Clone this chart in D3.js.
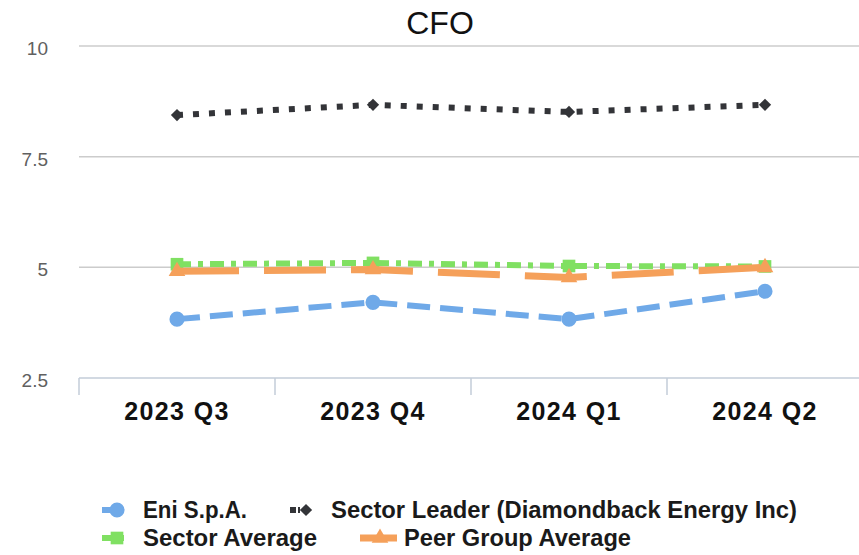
<!DOCTYPE html>
<html>
<head>
<meta charset="utf-8">
<script src="https://cdn.jsdelivr.net/npm/d3@7"></script>
<style>
  body { margin: 0; background: #fff; }
  svg { display: block; }
</style>
</head>
<body>
<div id="chart"></div>
<script>
const width = 859
const height = 555

const quarters = ['2023 Q3', '2023 Q4', '2024 Q1', '2024 Q2']
const yTicks = [2.5, 5, 7.5, 10]

const eniValues = [3.83, 4.21, 3.83, 4.46]
const leaderValues = [8.44, 8.67, 8.51, 8.67]
const sectorAvgValues = [5.07, 5.1, 5.03, 5.02]
const peerValues = [4.91, 4.95, 4.77, 5.0]

const series = [
    { name: 'Sector Average', values: sectorAvgValues, color: '#80e062', dash: '14,7,5,7', width: 6, symbol: d3.symbolSquare, size: 160, rotate: 0 },
    { name: 'Peer Group Average', values: peerValues, color: '#f5a05a', dash: '62,25', width: 7, symbol: d3.symbolTriangle, size: 120, rotate: 0 },
    { name: 'Eni S.p.A.', values: eniValues, color: '#6fa9e8', dash: '23,10', width: 6, symbol: d3.symbolCircle, size: 180, rotate: 0 },
    { name: 'Sector Leader (Diamondback Energy Inc)', values: leaderValues, color: '#333438', dash: '6,10', width: 6, symbol: d3.symbolSquare, size: 75, rotate: 45 }
]

const svg = d3.select('#chart').append('svg')
    .attr('width', width)
    .attr('height', height)

const x = d3.scaleBand()
    .domain(quarters)
    .range([79, 863])

const y = d3.scaleLinear()
    .domain([2.5, 10])
    .range([378, 46])

// title
svg.append('text')
    .attr('x', 440)
    .attr('y', 34)
    .attr('text-anchor', 'middle')
    .attr('font-family', 'Liberation Sans, Arial, sans-serif')
    .attr('font-size', 32)
    .attr('fill', '#111')
    .text('CFO')

// gridlines
svg.append('g')
    .selectAll('line')
    .data(yTicks.filter(d => d > 2.5))
    .enter().append('line')
    .attr('x1', 79)
    .attr('x2', width)
    .attr('y1', d => y(d))
    .attr('y2', d => y(d))
    .attr('stroke', '#cccccc')
    .attr('stroke-width', 1.5)

// y labels
svg.append('g')
    .selectAll('text')
    .data(yTicks)
    .enter().append('text')
    .attr('x', 48)
    .attr('y', d => y(d) + 9)
    .attr('text-anchor', 'end')
    .attr('font-family', 'Liberation Sans, Arial, sans-serif')
    .attr('font-size', 19)
    .attr('fill', '#606060')
    .text(d => d)

// x axis
const xAxis = svg.append('g')
    .attr('transform', `translate(0,${y(2.5)})`)
    .call(d3.axisBottom(x).tickSize(0).tickPadding(24))

xAxis.select('.domain')
    .attr('d', `M79,0H${width}`)
    .attr('stroke', '#c3cdd8')
    .attr('stroke-width', 1.5)

xAxis.selectAll('text')
    .attr('dy', '0.71em')
    .attr('y', 24)
    .attr('font-family', 'Liberation Sans, Arial, sans-serif')
    .attr('font-size', 25)
    .attr('font-weight', 'bold')
    .attr('letter-spacing', 1.4)
    .attr('fill', '#111')

xAxis.selectAll('.sep')
    .data(quarters)
    .enter().append('line')
    .attr('class', 'sep')
    .attr('x1', d => x(d))
    .attr('x2', d => x(d))
    .attr('y1', 0)
    .attr('y2', 17)
    .attr('stroke', '#c3cdd8')
    .attr('stroke-width', 1.5)

// lines
const line = d3.line()
    .x((d, i) => x(quarters[i]) + x.bandwidth() / 2)
    .y(d => y(d))

series.forEach(s => {
    svg.append('path')
        .datum(s.values)
        .attr('fill', 'none')
        .attr('stroke', s.color)
        .attr('stroke-width', s.width)
        .attr('stroke-dasharray', s.dash)
        .attr('d', line)

    svg.append('g')
        .selectAll('path')
        .data(s.values)
        .enter().append('path')
        .attr('transform', (d, i) => `translate(${x(quarters[i]) + x.bandwidth() / 2},${y(d)}) rotate(${s.rotate})`)
        .attr('d', d3.symbol().type(s.symbol).size(s.size))
        .attr('fill', s.color)
})

// legend
const legendItems = [
    { s: series[2], x: 102, sx: 117, lineEnd: 117, tx: 143, y: 510, len: 104, dash: null },
    { s: series[3], x: 290, sx: 306, lineEnd: 300, tx: 331, y: 510, len: 466, dash: '6,2' },
    { s: series[0], x: 102, sx: 117, lineEnd: 124, tx: 143, y: 538, len: 174, dash: null },
    { s: series[1], x: 360, sx: 380, lineEnd: 397, tx: 404, y: 538, len: 227, dash: null }
]

const legend = svg.append('g')
    .selectAll('g')
    .data(legendItems)
    .enter().append('g')

legend.append('line')
    .attr('x1', d => d.x)
    .attr('x2', d => d.lineEnd)
    .attr('y1', d => d.y)
    .attr('y2', d => d.y)
    .attr('stroke', d => d.s.color)
    .attr('stroke-width', d => d.s.width)
    .attr('stroke-dasharray', d => d.dash)

legend.append('path')
    .attr('transform', d => `translate(${d.sx},${d.y}) rotate(${d.s.rotate})`)
    .attr('d', d => d3.symbol().type(d.s.symbol).size(d.s.size)())
    .attr('fill', d => d.s.color)

legend.append('text')
    .attr('x', d => d.tx)
    .attr('y', d => d.y + 8)
    .attr('font-family', 'Liberation Sans, Arial, sans-serif')
    .attr('font-size', 24)
    .attr('font-weight', 'bold')
    .attr('textLength', d => d.len)
    .attr('lengthAdjust', 'spacingAndGlyphs')
    .attr('fill', '#1a1a1a')
    .text(d => d.s.name)
</script>
</body>
</html>
